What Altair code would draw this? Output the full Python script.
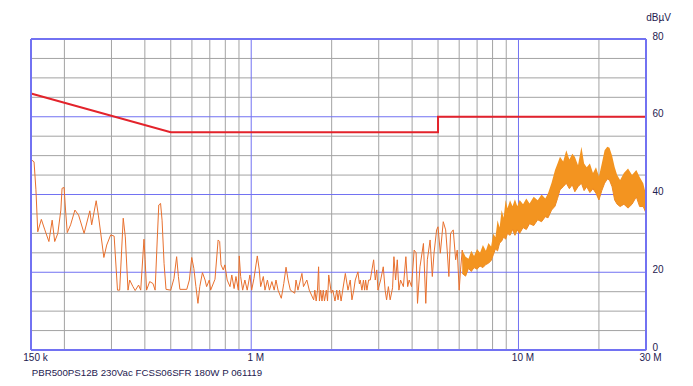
import altair as alt
import pandas as pd

# ---------------- data (frequency in MHz, level in dBuV) ----------------
trace_f = [
    0.150, 0.154, 0.1565, 0.159, 0.164, 0.169, 0.175, 0.180, 0.184, 0.189,
    0.194, 0.196, 0.1995, 0.202, 0.205, 0.211, 0.219, 0.226, 0.237, 0.249,
    0.253, 0.263, 0.268, 0.281, 0.288, 0.298, 0.307, 0.316, 0.322, 0.332,
    0.338, 0.346, 0.351, 0.361, 0.368, 0.379, 0.386, 0.397, 0.401, 0.406,
    0.417, 0.429, 0.437, 0.445, 0.451, 0.458, 0.464, 0.472, 0.480, 0.500,
    0.514, 0.526, 0.534, 0.541, 0.574, 0.587, 0.599, 0.610, 0.621, 0.632,
    0.642, 0.657, 0.672, 0.681, 0.697, 0.705, 0.732, 0.752, 0.762, 0.771,
    0.786, 0.797, 0.813, 0.833, 0.846, 0.863, 0.877, 0.895, 0.902, 0.913,
    0.929, 0.947, 0.966, 0.989, 1.004, 1.024, 1.054, 1.072, 1.085, 1.110,
    1.126, 1.150, 1.170, 1.195, 1.219, 1.238, 1.260, 1.296, 1.324, 1.350,
    1.374, 1.401, 1.455, 1.471, 1.496, 1.548, 1.569, 1.615, 1.649, 1.713,
    1.73, 1.75, 1.77, 1.787, 1.80, 1.82, 1.84, 1.86, 1.88, 1.91,
    1.93, 1.950, 1.994, 2.02, 2.058, 2.09, 2.113, 2.14, 2.169, 2.20,
    2.250, 2.302, 2.347, 2.382, 2.42, 2.451, 2.508, 2.54, 2.558, 2.596,
    2.63, 2.657, 2.68, 2.710, 2.75, 2.789, 2.871, 2.912, 2.95, 2.98,
    3.05, 3.12, 3.17, 3.21, 3.26, 3.31, 3.38, 3.42, 3.47, 3.52,
    3.57, 3.62, 3.71, 3.79, 3.85, 3.90, 3.98, 4.07, 4.14, 4.19,
    4.28, 4.41, 4.50, 4.56, 4.67, 4.76, 4.83, 4.94, 5.00, 5.10,
    5.23, 5.34, 5.41, 5.49, 5.57, 5.70, 5.82, 5.90, 6.00, 6.07,
    6.16, 6.25, 6.34,
]
trace_db = [
    49.0, 48.4, 41.2, 30.4, 33.6, 30.9, 27.9, 33.4, 27.9, 30.0,
    36.0, 41.6, 41.8, 36.0, 30.2, 32.2, 36.0, 34.7, 30.0, 35.8,
    32.2, 38.4, 34.7, 23.8, 27.0, 29.6, 29.3, 15.4, 15.4, 33.9,
    29.1, 15.4, 18.0, 16.3, 15.3, 16.7, 15.4, 28.5, 23.2, 15.4,
    17.6, 17.1, 15.4, 28.3, 37.3, 37.7, 33.4, 22.3, 15.6, 15.4,
    18.4, 24.0, 18.9, 15.6, 15.6, 18.0, 23.8, 21.0, 16.3, 12.0,
    16.3, 19.9, 18.0, 16.3, 18.0, 15.4, 18.2, 28.3, 27.9, 21.9,
    20.6, 21.9, 18.0, 16.3, 19.3, 15.8, 18.9, 15.4, 24.2, 18.9,
    15.4, 18.0, 15.4, 19.3, 15.4, 18.4, 24.2, 20.6, 16.3, 18.9,
    15.4, 18.0, 15.4, 17.6, 15.4, 18.0, 15.4, 13.3, 17.1, 21.3,
    18.0, 15.4, 14.6, 18.0, 15.4, 19.7, 16.3, 18.0, 15.4, 12.9,
    15.4, 12.6, 15.4, 21.4, 12.6, 15.4, 12.6, 15.4, 12.6, 15.4,
    12.6, 19.3, 14.6, 15.4, 12.6, 15.4, 12.9, 15.4, 12.6, 15.4,
    19.7, 15.4, 18.0, 12.9, 15.4, 18.0, 20.1, 17.0, 18.0, 15.4,
    18.0, 15.4, 18.0, 15.4, 18.0, 18.0, 23.2, 18.0, 20.6, 15.4,
    18.0, 21.4, 15.4, 12.9, 16.3, 12.9, 16.0, 24.0, 18.0, 23.2,
    15.4, 18.0, 16.3, 24.0, 16.3, 18.0, 16.3, 25.7, 25.0, 12.0,
    21.4, 27.4, 12.0, 23.2, 28.3, 18.9, 24.9, 30.9, 31.7, 24.9,
    33.0, 30.9, 25.7, 18.9, 30.0, 30.9, 23.2, 25.7, 15.4, 20.6,
    25.7, 19.7, 21.4,
]

# dense part of the trace: lower / upper envelope
band_f = [
    6.16, 6.34, 6.50, 6.66, 6.82, 7.00, 7.18, 7.36, 7.55, 7.72,
    7.90, 8.05, 8.20, 8.35, 8.50, 8.65, 8.80, 8.95, 9.10, 9.30,
    9.50, 9.70, 9.90, 10.1, 10.4, 10.7, 11.0, 11.4, 11.8, 12.2,
    12.6, 12.9, 13.3, 13.7, 14.0, 14.3, 14.7, 15.1, 15.5, 15.9,
    16.25, 16.7, 17.2, 17.6, 18.0, 18.5, 19.0, 19.5, 20.0, 20.5,
    21.0, 21.5, 21.9, 22.4, 22.9, 23.4, 24.0, 24.8, 25.7, 26.6,
    27.6, 28.4, 29.3, 30.0,
]
band_lo = [
    19.7, 19.0, 21.0, 20.2, 21.2, 20.8, 21.6, 21.2, 22.0, 22.3,
    23.0, 24.5, 26.0, 25.5, 27.5, 28.0, 29.1, 28.5, 30.0, 29.5,
    31.0, 29.5, 30.9, 30.0, 31.5, 31.0, 32.5, 32.0, 33.5, 33.0,
    34.3, 34.0, 36.0, 37.0, 39.0, 41.2, 42.0, 42.9, 41.5, 42.5,
    40.7, 42.0, 42.9, 41.0, 42.0, 40.5, 41.5, 40.3, 38.6, 41.0,
    42.9, 44.0, 43.7, 42.0, 38.6, 37.5, 36.9, 37.5, 36.5, 37.5,
    39.4, 36.9, 36.9, 35.2,
]
band_hi = [
    25.7, 24.0, 23.5, 25.5, 24.2, 26.0, 25.0, 27.0, 25.5, 27.5,
    26.6, 30.0, 29.0, 33.4, 31.5, 36.0, 34.0, 38.6, 36.5, 38.5,
    37.0, 38.8, 37.0, 38.6, 37.5, 39.0, 37.7, 39.4, 38.5, 40.0,
    39.0, 40.3, 43.0, 46.3, 48.0, 49.7, 48.5, 51.4, 49.0, 50.5,
    49.7, 47.5, 52.3, 48.0, 47.0, 48.0, 45.5, 47.0, 44.6, 48.0,
    51.4, 52.3, 52.0, 50.0, 47.1, 45.0, 43.7, 45.5, 46.7, 45.0,
    46.3, 44.5, 42.9, 40.0,
]

limit_f = [0.15, 0.5, 5.0, 5.0, 30.0]
limit_db = [66, 56, 56, 60, 60]

grid_minor_f = [0.2, 0.3, 0.4, 0.5, 0.6, 0.7, 0.8, 0.9, 2, 3, 4, 5, 6, 7, 8, 9, 20]
grid_major_f = [1, 10]
grid_minor_db = [5, 10, 15, 25, 30, 35, 45, 50, 55, 65, 70, 75]
grid_major_db = [20, 40, 60]
frame_f = [0.15, 30]
frame_db = [0, 80]

x_tick_values = [0.15, 1, 10, 30]
x_tick_labels = ["150 k", "1 M", "10 M", "30 M"]
y_tick_values = [0, 20, 40, 60, 80]
caption = "PBR500PS12B 230Vac FCSS06SFR 180W P 061119"
y_unit = "dBµV"

# ---------------- styling ----------------
FONT = "Liberation Sans"
BLUE = "#7272f2"
GRAY = "#a3a3a3"
TXT = "#1e2050"

xscale = alt.Scale(type="log", domain=[0.15, 30], nice=False)
yscale = alt.Scale(domain=[0, 80], nice=False)

label_expr = " : ".join(
    f"datum.value == {v} ? '{t}'" for v, t in zip(x_tick_values, x_tick_labels)
) + " : ''"

x_axis = alt.Axis(
    values=x_tick_values, labelExpr=label_expr, domain=False, ticks=False, grid=False,
    title=None, labelFont=FONT, labelFontSize=10, labelColor=TXT, labelPadding=2,
    labelFlush=False, labelOffset=4,
)
y_axis = alt.Axis(
    orient="right", values=y_tick_values, domain=False, ticks=False, grid=False,
    title=y_unit, titleAngle=0, titleX=12, titleY=-22, titleAlign="center",
    titleBaseline="middle", titleFont=FONT, titleFontSize=10, titleFontWeight="normal",
    titleColor=TXT, labelFont=FONT, labelFontSize=10, labelColor=TXT, labelPadding=6,
    labelAlign="left", labelOffset=-3,
)

vminor = alt.Chart(pd.DataFrame({"f": grid_minor_f})).mark_rule(color=GRAY, strokeWidth=1).encode(
    x=alt.X("f:Q", scale=xscale, axis=x_axis))
hminor = alt.Chart(pd.DataFrame({"db": grid_minor_db})).mark_rule(color=GRAY, strokeWidth=1).encode(
    y=alt.Y("db:Q", scale=yscale, axis=y_axis))
vmajor = alt.Chart(pd.DataFrame({"f": grid_major_f})).mark_rule(color=BLUE, strokeWidth=1).encode(
    x=alt.X("f:Q", scale=xscale))
hmajor = alt.Chart(pd.DataFrame({"db": grid_major_db})).mark_rule(color=BLUE, strokeWidth=1).encode(
    y=alt.Y("db:Q", scale=yscale))

df_trace = pd.DataFrame({"f": trace_f, "db": trace_db, "i": range(len(trace_f))})
trace = alt.Chart(df_trace).mark_line(color="#e8702e", strokeWidth=1).encode(
    x=alt.X("f:Q", scale=xscale), y=alt.Y("db:Q", scale=yscale), order="i:Q")

df_band = pd.DataFrame({"f": band_f, "lo": band_lo, "hi": band_hi})
band = alt.Chart(df_band).mark_area(color="#f39420", opacity=1,
                                    line={"color": "#ee8a22", "strokeWidth": 1}).encode(
    x=alt.X("f:Q", scale=xscale), y=alt.Y("lo:Q", scale=yscale), y2="hi:Q")

df_lim = pd.DataFrame({"f": limit_f, "db": limit_db, "i": range(len(limit_f))})
limit = alt.Chart(df_lim).mark_line(color="#e3232b", strokeWidth=2).encode(
    x=alt.X("f:Q", scale=xscale), y=alt.Y("db:Q", scale=yscale), order="i:Q")

vframe = alt.Chart(pd.DataFrame({"f": frame_f})).mark_rule(color=BLUE, strokeWidth=2).encode(
    x=alt.X("f:Q", scale=xscale))
hframe = alt.Chart(pd.DataFrame({"db": frame_db})).mark_rule(color=BLUE, strokeWidth=2).encode(
    y=alt.Y("db:Q", scale=yscale))

chart = alt.layer(vminor, hminor, vmajor, hmajor, trace, band, limit, vframe, hframe).properties(
    width=615, height=311,
    autosize=alt.AutoSizeParams(type="none"),
    padding={"left": 23, "top": 31, "right": 39, "bottom": 28},
    title=alt.TitleParams(caption, orient="bottom", anchor="start", font=FONT,
                          fontSize=9.7, fontWeight="normal", color=TXT, offset=6, dx=9),
).configure_view(stroke=None).configure(background="white")

chart.save("out.html", embed_options={"renderer": "svg", "actions": False})
